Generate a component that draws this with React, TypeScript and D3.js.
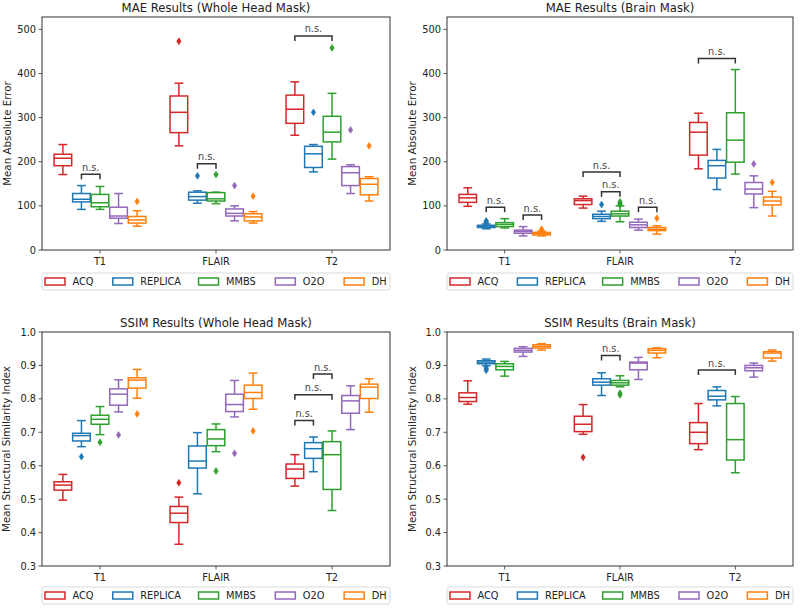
import * as d3 from "d3";

const categories = ["T1", "FLAIR", "T2"];
const methods = ["ACQ", "REPLICA", "MMBS", "O2O", "DH"];
const colors = ["#d62728", "#1f77b4", "#2ca02c", "#9467bd", "#ff7f0e"];

// box stats per category -> per method: [whisker low, q1, median, q3, whisker high]
const maeWholeStats = [
  [[171, 191, 208, 217, 239], [92, 109, 115, 128, 146], [92, 98, 107, 126, 144], [60, 72, 77, 97, 128], [54, 61, 68, 76, 89]],
  [[236, 266, 312, 349, 378], [106, 113, 121, 131, 134], [105, 111, 116, 130, 131], [66, 77, 83, 93, 100], [61, 66, 75, 82, 87]],
  [[260, 287, 319, 351, 381], [177, 187, 218, 235, 239], [206, 245, 267, 303, 355], [128, 146, 175, 189, 193], [111, 125, 149, 162, 166]],
];
// [category, method, value]
const maeWholeOutliers = [
  [0, 4, 110], [1, 0, 473], [1, 1, 168], [1, 2, 171], [1, 3, 146], [1, 4, 122],
  [2, 1, 312], [2, 2, 458], [2, 3, 272], [2, 4, 236],
];
// [category, method a, method b, level]
const maeWholeBrackets = [[0, 1, 2, 171.5], [1, 1, 2, 195.5], [2, 0, 2, 485]];

const maeBrainStats = [
  [[99, 108, 118, 126, 141], [48, 51, 54, 56, 59], [50, 53, 58, 62, 71], [32, 38, 42, 45, 53], [32, 34, 37, 40, 43]],
  [[95, 103, 112, 116, 122], [65, 71, 76, 81, 88], [64, 77, 82, 88, 100], [45, 51, 57, 63, 70], [36, 44, 47, 51, 55]],
  [[184, 215, 267, 289, 310], [137, 163, 191, 203, 228], [172, 199, 249, 311, 409], [96, 127, 138, 153, 168], [77, 102, 111, 120, 133]],
];
const maeBrainOutliers = [
  [0, 1, 62], [0, 1, 64], [0, 1, 66], [0, 4, 45], [0, 4, 47],
  [1, 1, 103], [1, 2, 103], [1, 2, 106], [1, 2, 109], [1, 4, 72],
  [2, 3, 195], [2, 4, 153],
];
const maeBrainBrackets = [
  [0, 1, 2, 96.7], [0, 3, 4, 79.3], [1, 0, 2, 176.7], [1, 1, 2, 132], [1, 3, 4, 96.7], [2, 0, 2, 434],
];

const ssimWholeStats = [
  [[0.497, 0.527, 0.542, 0.552, 0.574], [0.657, 0.674, 0.69, 0.697, 0.735], [0.693, 0.724, 0.739, 0.751, 0.777], [0.761, 0.781, 0.814, 0.83, 0.857], [0.802, 0.832, 0.856, 0.863, 0.888]],
  [[0.365, 0.43, 0.458, 0.478, 0.506], [0.516, 0.593, 0.614, 0.659, 0.699], [0.642, 0.66, 0.68, 0.708, 0.725], [0.746, 0.762, 0.783, 0.814, 0.855], [0.769, 0.801, 0.819, 0.841, 0.877]],
  [[0.539, 0.562, 0.59, 0.605, 0.633], [0.582, 0.622, 0.651, 0.669, 0.686], [0.466, 0.529, 0.633, 0.672, 0.704], [0.708, 0.757, 0.794, 0.81, 0.839], [0.76, 0.801, 0.835, 0.844, 0.86]],
];
const ssimWholeOutliers = [
  [0, 1, 0.627], [0, 2, 0.67], [0, 3, 0.692], [0, 4, 0.755],
  [1, 0, 0.549], [1, 2, 0.584], [1, 3, 0.637], [1, 4, 0.704],
];
const ssimWholeBrackets = [[2, 0, 1, 0.735], [2, 0, 2, 0.812], [2, 1, 2, 0.874]];

const ssimBrainStats = [
  [[0.784, 0.792, 0.804, 0.818, 0.854], [0.899, 0.905, 0.91, 0.914, 0.919], [0.868, 0.887, 0.897, 0.905, 0.912], [0.927, 0.94, 0.945, 0.951, 0.956], [0.946, 0.952, 0.957, 0.962, 0.965]],
  [[0.694, 0.702, 0.724, 0.748, 0.783], [0.81, 0.841, 0.85, 0.86, 0.878], [0.836, 0.841, 0.848, 0.855, 0.869], [0.858, 0.887, 0.907, 0.91, 0.924], [0.923, 0.937, 0.945, 0.95, 0.953]],
  [[0.648, 0.666, 0.7, 0.729, 0.786], [0.779, 0.797, 0.808, 0.825, 0.836], [0.579, 0.617, 0.678, 0.786, 0.807], [0.865, 0.884, 0.893, 0.9, 0.907], [0.913, 0.922, 0.937, 0.941, 0.946]],
];
const ssimBrainOutliers = [[0, 1, 0.885], [0, 1, 0.89], [0, 1, 0.893], [1, 0, 0.625], [1, 2, 0.812], [1, 2, 0.817]];
const ssimBrainBrackets = [[1, 1, 2, 0.93], [2, 0, 2, 0.886]];

const maeTicks = [0, 100, 200, 300, 400, 500];
const ssimTicks = [0.3, 0.4, 0.5, 0.6, 0.7, 0.8, 0.9, 1.0];

const FONT = "DejaVu Sans, sans-serif";
const legendOffsets = [3, 71, 157, 234, 303];

function Panel({ left, right, top, bottom, domain, ticks, fmt, title, ylabel, labelX, legendTop, stats, outliers, brackets }) {
  const x = d3.scaleBand().domain(categories).range([left, right]);
  const hue = d3
    .scaleBand()
    .domain(methods)
    .range([x.bandwidth() * 0.1, x.bandwidth() * 0.9]);
  const y = d3.scaleLinear().domain(domain).range([bottom, top]);
  const bw = hue.bandwidth() * 0.95;
  const cx = (c, m) => x(categories[c]) + hue(methods[m]) + hue.bandwidth() / 2;
  const lw = right - left;
  const ls = lw / 349;

  return (
    <g fontFamily={FONT}>
      <text x={(left + right) / 2} y={top - 5.5} textAnchor="middle" fontSize={11.7} fill="#222">
        {title}
      </text>
      <text
        transform={`translate(${labelX},${(top + bottom) / 2}) rotate(-90)`}
        textAnchor="middle"
        dominantBaseline="central"
        fontSize={10.3}
        fill="#222"
      >
        {ylabel}
      </text>
      {ticks.map((t) => (
        <g key={t}>
          <line x1={left - 3.5} x2={left} y1={y(t)} y2={y(t)} stroke="#333" strokeWidth={0.8} />
          <text x={left - 6} y={y(t)} textAnchor="end" dominantBaseline="central" fontSize={9.8} fill="#222">
            {fmt(t)}
          </text>
        </g>
      ))}
      {categories.map((c) => {
        const px = x(c) + x.bandwidth() / 2;
        return (
          <g key={c}>
            <line x1={px} x2={px} y1={bottom} y2={bottom + 3.5} stroke="#333" strokeWidth={0.8} />
            <text x={px} y={bottom + 15} textAnchor="middle" fontSize={9.8} fill="#222">
              {c}
            </text>
          </g>
        );
      })}
      {stats.map((cat, ci) =>
        cat.map((s, mi) => {
          const c = cx(ci, mi);
          const col = colors[mi];
          const [lo, q1, med, q3, hi] = s;
          return (
            <g key={`${ci}-${mi}`} stroke={col} strokeWidth={1.5} fill="none">
              <line x1={c} x2={c} y1={y(q3)} y2={y(hi)} />
              <line x1={c} x2={c} y1={y(q1)} y2={y(lo)} />
              <line x1={c - bw / 4} x2={c + bw / 4} y1={y(hi)} y2={y(hi)} />
              <line x1={c - bw / 4} x2={c + bw / 4} y1={y(lo)} y2={y(lo)} />
              <rect x={c - bw / 2} y={y(q3)} width={bw} height={y(q1) - y(q3)} fill="white" />
              <line x1={c - bw / 2} x2={c + bw / 2} y1={y(med)} y2={y(med)} />
            </g>
          );
        })
      )}
      {outliers.map(([ci, mi, v], i) => {
        const c = cx(ci, mi);
        const py = y(v);
        return (
          <path
            key={i}
            d={`M${c},${py - 3.4}L${c + 2.2},${py}L${c},${py + 3.4}L${c - 2.2},${py}Z`}
            fill={colors[mi]}
            stroke={colors[mi]}
            strokeWidth={0.6}
          />
        );
      })}
      {brackets.map(([ci, a, b, v], i) => {
        const xa = cx(ci, a);
        const xb = cx(ci, b);
        const py = y(v);
        return (
          <g key={i}>
            <path d={`M${xa},${py + 5}V${py}H${xb}V${py + 5}`} fill="none" stroke="#333" strokeWidth={1.5} />
            <text x={(xa + xb) / 2} y={py - 3.5} textAnchor="middle" fontSize={9.8} fill="#444">
              n.s.
            </text>
          </g>
        );
      })}
      <rect x={left} y={top} width={right - left} height={bottom - top} fill="none" stroke="#333" strokeWidth={1} />
      <rect x={left} y={legendTop} width={lw} height={17} rx={2} fill="white" stroke="#d0d0d0" strokeWidth={0.8} />
      {methods.map((m, i) => {
        const px = left + legendOffsets[i] * ls;
        return (
          <g key={m}>
            <rect x={px} y={legendTop + 5} width={20} height={7} fill="white" stroke={colors[i]} strokeWidth={1.5} />
            <text x={px + 27.5} y={legendTop + 8.5} dominantBaseline="central" fontSize={9.8} fill="#222">
              {m}
            </text>
          </g>
        );
      })}
    </g>
  );
}

export default function App() {
  const f0 = d3.format("d");
  const f1 = d3.format(".1f");
  return (
    <div style={{ position: "absolute", left: 0, top: 0 }}>
      <svg width={800} height={608} style={{ display: "block", background: "white" }}>
        <Panel left={42} right={390} top={17} bottom={250} domain={[0, 528]} ticks={maeTicks} fmt={f0}
          title="MAE Results (Whole Head Mask)" ylabel="Mean Absolute Error" labelX={7} legendTop={273}
          stats={maeWholeStats} outliers={maeWholeOutliers} brackets={maeWholeBrackets} />
        <Panel left={447} right={793} top={17} bottom={250} domain={[0, 528]} ticks={maeTicks} fmt={f0}
          title="MAE Results (Brain Mask)" ylabel="Mean Absolute Error" labelX={412} legendTop={273}
          stats={maeBrainStats} outliers={maeBrainOutliers} brackets={maeBrainBrackets} />
        <Panel left={42} right={390} top={332} bottom={566} domain={[0.3, 1.0]} ticks={ssimTicks} fmt={f1}
          title="SSIM Results (Whole Head Mask)" ylabel="Mean Structural Similarity Index" labelX={6} legendTop={587}
          stats={ssimWholeStats} outliers={ssimWholeOutliers} brackets={ssimWholeBrackets} />
        <Panel left={447} right={793} top={332} bottom={566} domain={[0.3, 1.0]} ticks={ssimTicks} fmt={f1}
          title="SSIM Results (Brain Mask)" ylabel="Mean Structural Similarity Index" labelX={412} legendTop={587}
          stats={ssimBrainStats} outliers={ssimBrainOutliers} brackets={ssimBrainBrackets} />
      </svg>
    </div>
  );
}
